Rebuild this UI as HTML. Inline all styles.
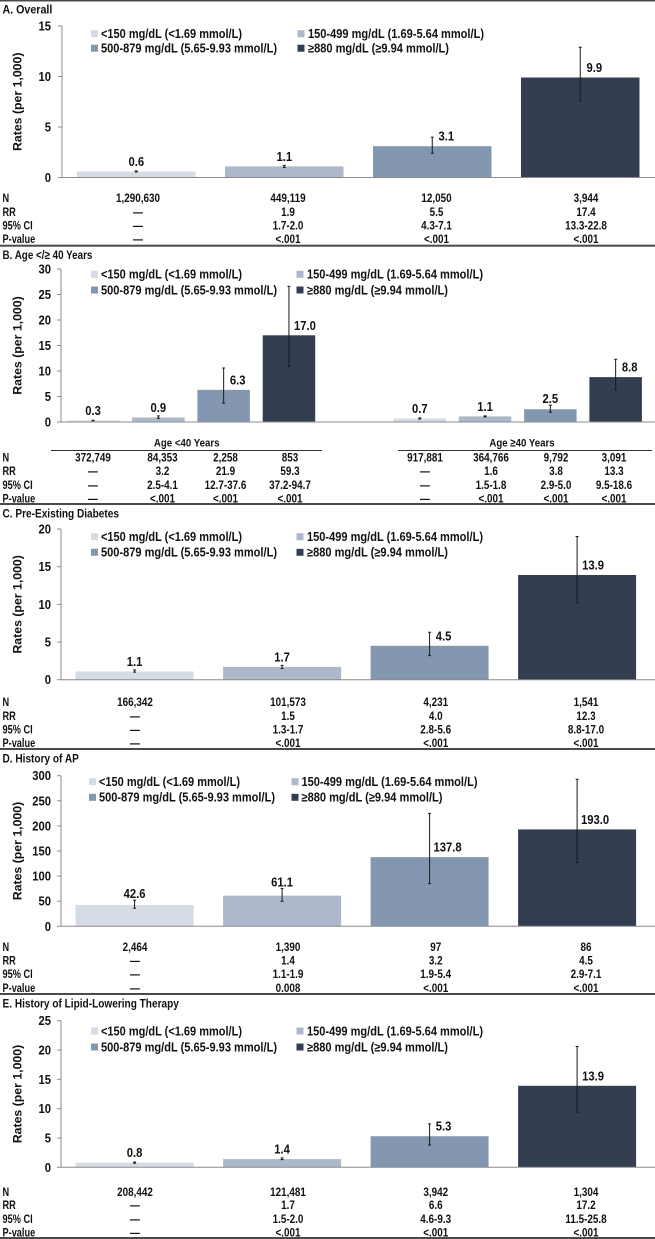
<!DOCTYPE html>
<html lang="en">
<head>
<meta charset="utf-8">
<title>Rates per 1,000 by triglyceride level</title>
<style>
html,body{margin:0;padding:0;background:#fff;width:655px;height:1239px;overflow:hidden}
svg{display:block;filter:blur(.35px)}
text{font-family:"Liberation Sans",sans-serif;font-weight:700;fill:#111}
</style>
</head>
<body>
<svg id="figure" width="655" height="1239" viewBox="0 0 655 1239" xmlns="http://www.w3.org/2000/svg"></svg>
<script>
const legendLabels = ['<150 mg/dL (<1.69 mmol/L)', '150-499 mg/dL (1.69-5.64 mmol/L)', '500-879 mg/dL (5.65-9.93 mmol/L)', '≥880 mg/dL (≥9.94 mmol/L)'];
const rowLabels = ['N', 'RR', '95% CI', 'P-value'];

const overallRates = [0.6, 1.1, 3.1, 9.9];
const overallLow = [0.55, 1.0, 2.4, 7.6];
const overallHigh = [0.65, 1.2, 4.0, 12.9];
const overallTicks = [0, 5, 10, 15];
const overallN = ['1,290,630', '449,119', '12,050', '3,944'];
const overallRR = ['—', '1.9', '5.5', '17.4'];
const overallCI = ['—', '1.7-2.0', '4.3-7.1', '13.3-22.8'];
const overallP = ['—', '<.001', '<.001', '<.001'];

const ageRates = [0.3, 0.9, 6.3, 17.0, 0.7, 1.1, 2.5, 8.8];
const ageLow = [0.25, 0.7, 3.7, 10.9, 0.6, 1.0, 1.9, 6.3];
const ageHigh = [0.35, 1.2, 10.6, 26.6, 0.8, 1.2, 3.3, 12.3];
const ageTicks = [0, 5, 10, 15, 20, 25, 30];
const ageN = ['372,749', '84,353', '2,258', '853', '917,881', '364,766', '9,792', '3,091'];
const ageRR = ['—', '3.2', '21.9', '59.3', '—', '1.6', '3.8', '13.3'];
const ageCI = ['—', '2.5-4.1', '12.7-37.6', '37.2-94.7', '—', '1.5-1.8', '2.9-5.0', '9.5-18.6'];
const ageP = ['—', '<.001', '<.001', '<.001', '—', '<.001', '<.001', '<.001'];
const ageGroups = ['Age <40 Years', 'Age ≥40 Years'];

const diabetesRates = [1.1, 1.7, 4.5, 13.9];
const diabetesLow = [1.0, 1.5, 3.2, 10.2];
const diabetesHigh = [1.3, 1.9, 6.3, 19.0];
const diabetesTicks = [0, 5, 10, 15, 20];
const diabetesN = ['166,342', '101,573', '4,231', '1,541'];
const diabetesRR = ['—', '1.5', '4.0', '12.3'];
const diabetesCI = ['—', '1.3-1.7', '2.8-5.6', '8.8-17.0'];
const diabetesP = ['—', '<.001', '<.001', '<.001'];

const apRates = [42.6, 61.1, 137.8, 193.0];
const apLow = [36, 50, 85, 127];
const apHigh = [52, 75, 225, 293];
const apTicks = [0, 50, 100, 150, 200, 250, 300];
const apN = ['2,464', '1,390', '97', '86'];
const apRR = ['—', '1.4', '3.2', '4.5'];
const apCI = ['—', '1.1-1.9', '1.9-5.4', '2.9-7.1'];
const apP = ['—', '0.008', '<.001', '<.001'];

const lipidRates = [0.8, 1.4, 5.3, 13.9];
const lipidLow = [0.7, 1.3, 3.8, 9.4];
const lipidHigh = [0.9, 1.6, 7.4, 20.6];
const lipidTicks = [0, 5, 10, 15, 20, 25];
const lipidN = ['208,442', '121,481', '3,942', '1,304'];
const lipidRR = ['—', '1.7', '6.6', '17.2'];
const lipidCI = ['—', '1.5-2.0', '4.6-9.3', '11.5-25.8'];
const lipidP = ['—', '<.001', '<.001', '<.001'];

const svg = document.getElementById('figure');
const NS = 'http://www.w3.org/2000/svg';
const barColors = ['#d6dce5', '#adb9ca', '#8497b0', '#333f50'];
const legendWidths = [141, 176, 176, 141];

function shape(tag, attrs) {
  const el = document.createElementNS(NS, tag);
  for (const k in attrs) el.setAttribute(k, attrs[k]);
  svg.appendChild(el);
  return el;
}
function label(str, x, midY, size, anchor, sx) {
  const el = document.createElementNS(NS, 'text');
  const base = midY + size * 0.36;
  el.setAttribute('transform', 'translate(' + x + ' ' + base + ') scale(' + sx + ' 1)');
  el.setAttribute('font-size', size);
  el.setAttribute('text-anchor', anchor);
  el.textContent = str;
  svg.appendChild(el);
  return el;
}

function drawPanel(p) {
  const y = v => p.y0 - (v / p.max) * (p.y0 - p.yTop);
  const barX = i => p.left + i * p.step + (i >= 4 ? p.gap : 0);

  const rule = shape('rect', {x: 0, y: p.rule - 1, width: 655, height: 2, fill: '#4a4a4a'});
  
  

  const title = label(p.title, 2.5, p.titleY, 12, 'start', p.titleSx);
  
  

  const axisTitleEl = document.createElementNS(NS, 'text');
  axisTitleEl.setAttribute('transform', 'translate(21.5 ' + ((p.y0 + p.yTop) / 2) + ') rotate(-90)');
  axisTitleEl.setAttribute('font-size', 12.3);
  axisTitleEl.setAttribute('text-anchor', 'middle');
  axisTitleEl.textContent = 'Rates (per 1,000)';
  svg.appendChild(axisTitleEl);
  
  

  const yAxis = shape('line', {x1: p.axisX, x2: p.axisX, y1: p.yTop, y2: p.y0, stroke: '#8c8c8c', 'stroke-width': 1});
  
  

  p.ticks.forEach(t => {
    const tick = shape('line', {x1: p.axisX - 4, x2: p.axisX, y1: y(t), y2: y(t), stroke: '#8c8c8c', 'stroke-width': 1});
    
    
    const tl = label(String(t), 51, y(t), 12.5, 'end', 0.9);
    
    
  });

  p.rates.forEach((v, i) => {
    const bar = shape('rect', {x: barX(i), y: y(v), width: p.barW, height: p.y0 - y(v), fill: barColors[i % 4]});
    
    
  });

  const xAxis = shape('line', {x1: p.axisX, x2: 655, y1: p.y0, y2: p.y0, stroke: '#8c8c8c', 'stroke-width': 1});
  
  

  p.rates.forEach((v, i) => {
    const cx = barX(i) + p.barW / 2;
    const err = shape('path', {
      d: 'M' + cx + ' ' + y(p.high[i]) + 'V' + y(p.low[i]) +
         'M' + (cx - 1.5) + ' ' + y(p.high[i]) + 'h3' +
         'M' + (cx - 1.5) + ' ' + y(p.low[i]) + 'h3',
      stroke: '#1a1a1a', 'stroke-width': 1, fill: 'none'
    });
    
    

    const txt = v.toFixed(1);
    const shifted = y(v) - y(p.high[i]) > 8;
    const lx = cx + (shifted ? 8 + txt.length * 2 : 0);
    const ly = shifted ? y(v) - 10 : Math.min(y(v) - 10, y(p.high[i]) - 6.5);
    const vl = label(txt, lx, ly, 12.5, 'middle', 0.9);
    
    
  });

  legendLabels.forEach((txt, i) => {
    const col = i % 2;
    const ly = i < 2 ? p.legendY1 : p.legendY2;
    const sx = col === 0 ? p.legendSw1 : p.legendSw2;
    const swatch = shape('rect', {x: sx, y: ly - 3.5, width: 7, height: 7, fill: barColors[i]});
    
    
    const lt = document.createElementNS(NS, 'text');
    lt.setAttribute('x', col === 0 ? p.legendTx1 : p.legendTx2);
    lt.setAttribute('y', ly + 4.3);
    lt.setAttribute('font-size', 12.5);
    lt.setAttribute('textLength', legendWidths[i]);
    lt.setAttribute('lengthAdjust', 'spacingAndGlyphs');
    lt.textContent = txt;
    svg.appendChild(lt);
    
    
  });

  p.table.forEach((cells, r) => {
    const rowL = label(rowLabels[r], 2.5, p.rowY[r], 11.5, 'start', 0.8);
    
    
    cells.forEach((c, i) => {
      const cell = label(c, p.cols[i], p.rowY[r], 11.5, 'middle', 0.86);
      
      
    });
  });
}

drawPanel({
  title: 'A. Overall', titleSx: 0.89, rule: 0.5, titleY: 9, axisX: 62, y0: 177.5, yTop: 26, max: 15,
  ticks: overallTicks, rates: overallRates, low: overallLow, high: overallHigh,
  left: 77, step: 148, gap: 0, barW: 118.5,
  legendY1: 33.7, legendY2: 48.2, legendSw1: 91, legendSw2: 297.5, legendTx1: 101, legendTx2: 308,
  table: [overallN, overallRR, overallCI, overallP],
  cols: [138, 288, 436.5, 586], rowY: [198, 212, 225.3, 239]
});
drawPanel({
  title: 'B. Age </≥ 40 Years', titleSx: 0.82, rule: 245.7, titleY: 254.5, axisX: 61, y0: 422, yTop: 269, max: 30,
  ticks: ageTicks, rates: ageRates, low: ageLow, high: ageHigh,
  left: 66.8, step: 65.3, gap: 65.5, barW: 52.5,
  legendY1: 274.3, legendY2: 290, legendSw1: 91, legendSw2: 296.5, legendTx1: 101, legendTx2: 307,
  table: [ageN, ageRR, ageCI, ageP],
  cols: [93, 162.5, 225.5, 290, 425, 491, 556, 614], rowY: [457.5, 471, 485, 498.5]
});
ageGroups.forEach((g, i) => {
  const gx = i === 0 ? 186.7 : 522;
  const gl = label(g, gx, 442.5, 11.5, 'middle', 0.84);
  
  
  const gr = shape('line', {x1: i === 0 ? 51 : 398, x2: i === 0 ? 322 : 652, y1: 450.5, y2: 450.5, stroke: '#333', 'stroke-width': 1});
  
  
});
drawPanel({
  title: 'C. Pre-Existing Diabetes', titleSx: 0.84, rule: 504, titleY: 513, axisX: 61, y0: 679.7, yTop: 529, max: 20,
  ticks: diabetesTicks, rates: diabetesRates, low: diabetesLow, high: diabetesHigh,
  left: 75.6, step: 147.5, gap: 0, barW: 118,
  legendY1: 536.7, legendY2: 552.3, legendSw1: 91, legendSw2: 296.5, legendTx1: 101, legendTx2: 307,
  table: [diabetesN, diabetesRR, diabetesCI, diabetesP],
  cols: [135, 288, 435.7, 586], rowY: [702, 715.7, 729.3, 743]
});
drawPanel({
  title: 'D. History of AP', titleSx: 0.84, rule: 749, titleY: 758, axisX: 61, y0: 926.3, yTop: 775.7, max: 300,
  ticks: apTicks, rates: apRates, low: apLow, high: apHigh,
  left: 75.6, step: 147.5, gap: 0, barW: 118,
  legendY1: 781.7, legendY2: 797.3, legendSw1: 89, legendSw2: 291.5, legendTx1: 99, legendTx2: 301.5,
  table: [apN, apRR, apCI, apP],
  cols: [135, 288, 435.7, 586], rowY: [946.7, 960.3, 974, 987.7]
});
drawPanel({
  title: 'E. History of Lipid-Lowering Therapy', titleSx: 0.84, rule: 994, titleY: 1003, axisX: 61, y0: 1167.3, yTop: 1020.7, max: 25,
  ticks: lipidTicks, rates: lipidRates, low: lipidLow, high: lipidHigh,
  left: 75.6, step: 147.5, gap: 0, barW: 118,
  legendY1: 1031, legendY2: 1047, legendSw1: 91, legendSw2: 296.5, legendTx1: 101, legendTx2: 307,
  table: [lipidN, lipidRR, lipidCI, lipidP],
  cols: [135, 288, 435.7, 586], rowY: [1191.7, 1205, 1218.7, 1232.3]
});
const bottomRule = shape('rect', {x: 0, y: 1237, width: 655, height: 2, fill: '#4a4a4a'});


</script>
</body>
</html>
